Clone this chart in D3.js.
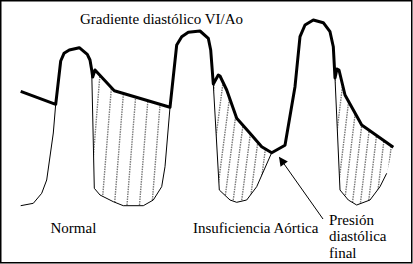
<!DOCTYPE html>
<html>
<head>
<meta charset="utf-8">
<script src="https://cdn.jsdelivr.net/npm/d3@7"></script>
<style>
  body { margin: 0; background: #fff; }
  svg { display: block; }
  text { font-family: "Liberation Serif", "DejaVu Serif", serif; fill: #000; }
</style>
</head>
<body>
<div id="graphic"></div>
<script>
// time (arbitrary units) and pressure (arbitrary units)
var aortaTime = [20.7, 55.7, 60.7, 64, 69.3, 79.3, 87.3, 90, 91.7, 92.7, 95, 114.3, 170,
                 176.7, 181.7, 188.3, 200, 208.3, 210.7, 213.3, 218.3, 220, 226.7, 236.7, 250, 261.7, 271.7,
                 285, 295, 300, 305, 313.3, 323.3, 330, 333.3, 335, 337, 339, 345, 361.7, 393.3],
    aortaPressure = [118.7, 105.7, 149, 156.7, 160, 162.3, 155.7, 150, 140, 133, 140, 119.3, 102.7,
                 165, 173.3, 177.7, 179, 171.7, 160, 126, 135, 134, 120, 91.7, 76.7, 63.3, 57.3,
                 64.7, 123.3, 173.3, 185, 190, 187.3, 178.3, 163.3, 132, 141, 140, 115, 85, 62.7];

var lvTime = [20.7, 33.3, 41.7, 46.7, 53.3, 55.7, 60.7, 64, 69.3, 79.3, 87.3, 90, 91.7, 92.8, 94.3,
              100, 113.3, 123.3, 143.3, 153.3, 161.7, 165, 170,
              176.7, 181.7, 188.3, 200, 208.3, 210.7, 213.3, 219.3, 230, 236.7, 246.7, 256.7, 271.7,
              285, 295, 300, 305, 313.3, 323.3, 330, 333.3, 335, 340, 348.3, 356.7, 370, 380, 386.7],
    lvPressure = [4.3, 6.7, 16.7, 30, 77, 105.7, 149, 156.7, 160, 162.3, 155.7, 150, 140, 90, 21.7,
              15, 8.3, 4.3, 4.3, 10, 23.3, 43.3, 102.7,
              165, 173.3, 177.7, 179, 171.7, 160, 126, 20, 10, 7.7, 10, 23.3, 57.3,
              64.7, 123.3, 173.3, 185, 190, 187.3, 178.3, 163.3, 132, 20, 10, 5, 10, 23.3, 36.7];

// diastolic gradient windows (start, end time) and hatch spacing
var gradStart = [91.7, 213.3, 335],
    gradEnd = [170, 271.7, 393.3],
    hatchStep = [12.5, 8.5, 8],
    hatchSlant = [0.08, 0.13, 0.12];

var labels = ["Normal", "Insuficiencia Aórtica"],
    labelTime = [50.5, 193],
    noteLines = ["Presión", "diastólica", "final"];

var width = 413, height = 264;

var x = d3.scaleLinear().domain([0, 413]).range([0, 413]),
    y = d3.scaleLinear().domain([0, 210]).range([210, 0]);

var svg = d3.select("#graphic").append("svg")
    .attr("width", width)
    .attr("height", height);

var aorta = aortaTime.map(function (t, i) { return [t, aortaPressure[i]]; }),
    lv = lvTime.map(function (t, i) { return [t, lvPressure[i]]; });

var line = d3.line()
    .x(function (d) { return x(d[0]); })
    .y(function (d) { return y(d[1]); });

var defs = svg.append("defs");

defs.append("marker")
    .attr("id", "head")
    .attr("viewBox", "0 0 10 10")
    .attr("refX", 9)
    .attr("refY", 5)
    .attr("markerWidth", 11)
    .attr("markerHeight", 9)
    .attr("markerUnits", "userSpaceOnUse")
    .attr("orient", "auto")
    .append("path")
    .attr("d", "M0,0L10,5L0,10z")
    .attr("fill", "#000");

// hatched gradient regions
gradStart.forEach(function (a, k) {
    var b = gradEnd[k];
    var top = aorta.filter(function (d) { return d[0] >= a && d[0] <= b; }),
        bot = lv.filter(function (d) { return d[0] >= a && d[0] <= b; }).reverse();

    defs.append("clipPath")
        .attr("id", "clip" + k)
        .append("path")
        .attr("d", line(top.concat(bot)) + "Z");

    var g = svg.append("g").attr("clip-path", "url(#clip" + k + ")");
    var slant = hatchSlant[k];
    g.selectAll("line")
        .data(d3.range(a - 20, b + 20, hatchStep[k]))
        .enter().append("line")
        .attr("x1", function (d) { return x(d) - slant * 100; })
        .attr("y1", y(0) + 5)
        .attr("x2", function (d) { return x(d) + slant * 120; })
        .attr("y2", y(0) - 215)
        .attr("stroke", "#777")
        .attr("stroke-width", 1.4)
        .attr("stroke-dasharray", "1.5,1");
});

// left ventricle pressure
svg.append("path")
    .datum(lv)
    .attr("d", line)
    .attr("fill", "none")
    .attr("stroke", "#000")
    .attr("stroke-width", 1);

// aortic pressure
svg.append("path")
    .datum(aorta)
    .attr("d", line)
    .attr("fill", "none")
    .attr("stroke", "#000")
    .attr("stroke-width", 3)
    .attr("stroke-linejoin", "round");

// arrow to end-diastolic pressure
svg.append("line")
    .attr("x1", 323)
    .attr("y1", 219)
    .attr("x2", x(279.5))
    .attr("y2", y(210 - 157.5))
    .attr("stroke", "#000")
    .attr("stroke-width", 1)
    .attr("marker-end", "url(#head)");

svg.append("text")
    .attr("x", 80)
    .attr("y", 24)
    .attr("font-size", 15)
    .text("Gradiente diastólico VI/Ao");

svg.selectAll(".lab")
    .data(labels)
    .enter().append("text")
    .attr("class", "lab")
    .attr("x", function (d, i) { return x(labelTime[i]); })
    .attr("y", 233)
    .attr("font-size", 15)
    .text(function (d) { return d; });

svg.selectAll(".note")
    .data(noteLines)
    .enter().append("text")
    .attr("class", "note")
    .attr("x", 329)
    .attr("y", function (d, i) { return 225 + i * 16.3; })
    .attr("font-size", 15)
    .text(function (d) { return d; });

// frame
svg.append("rect")
    .attr("x", 0.75)
    .attr("y", 0.75)
    .attr("width", 411)
    .attr("height", 262)
    .attr("fill", "none")
    .attr("stroke", "#000")
    .attr("stroke-width", 1.5);
</script>
</body>
</html>
